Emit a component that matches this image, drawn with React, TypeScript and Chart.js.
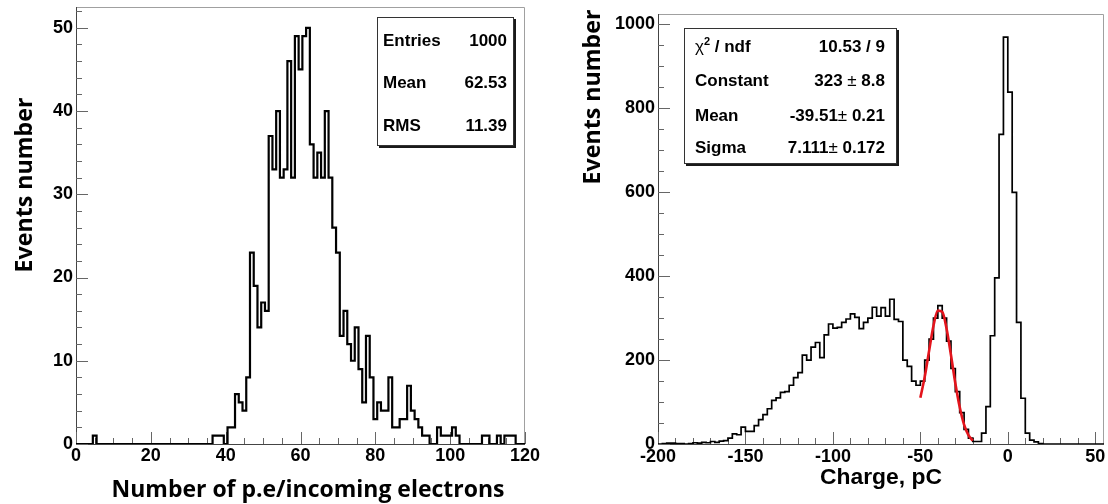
import React, { useEffect, useRef } from "react";
import { Chart, registerables } from "chart.js";

Chart.register(...registerables);

// ---------------- data ----------------
// Left histogram: counts of 1-unit bins centred on 0,1,2,...,120
const leftFirstEdge = -0.5;
const leftBinWidth = 1;
const leftCounts = [
  0, 0, 0, 0, 0, 1, 0, 0, 0, 0,
  0, 0, 0, 0, 0, 0, 0, 0, 0, 0,
  0, 0, 0, 0, 0, 0, 0, 0, 0, 0,
  0, 0, 0, 0, 0, 0, 0, 1, 1, 1,
  0, 2, 2, 6, 5, 4, 8, 23, 19, 14,
  17, 16, 37, 33, 40, 32, 33, 46, 32, 49,
  45, 49, 50, 36, 32, 35, 32, 40, 32, 26,
  23, 13, 16, 12, 10, 14, 9, 5, 13, 8,
  3, 5, 4, 4, 8, 2, 2, 3, 3, 7,
  4, 3, 2, 1, 1, 0, 0, 2, 1, 1,
  1, 2, 1, 0, 0, 0, 0, 0, 0, 1,
  1, 0, 0, 1, 0, 1, 1, 1, 0, 0,
  0,
];

// Right histogram: 2.5 pC bins starting at -200
const rightFirstEdge = -200;
const rightBinWidth = 2.5;
const rightCounts = [
  0, 1, 2, 2, 1, 1, 0, 1, 3, 2,
  4, 3, 6, 4, 7, 8, 14, 24, 22, 40,
  30, 30, 44, 58, 70, 84, 104, 110, 123, 125,
  140, 158, 170, 212, 200, 231, 242, 206, 260, 286,
  276, 278, 290, 298, 310, 302, 275, 290, 300, 326,
  305, 325, 305, 345, 297, 292, 200, 185, 150, 140,
  150, 200, 250, 300, 330, 300, 245, 180, 125, 75,
  35, 14, 6, 6, 26, 89, 258, 396, 738, 970,
  839, 600, 290, 109, 26, 9, 5, 1, 0, 0,
  0, 0, 0, 0, 0, 0, 0, 0, 0, 0,
  0, 0,
];

// Red fit curve
const fitX = [-50, -47.5, -45, -42.5, -40, -37.5, -35, -32.5, -30, -27.5, -25, -22.5, -20];
const fitY = [110, 160, 222, 282, 318, 315, 275, 212, 145, 88, 46, 21, 8];

// Axis ticks
const leftXTicks = [0, 20, 40, 60, 80, 100, 120];
const leftYTicks = [0, 10, 20, 30, 40, 50];
const rightXTicks = [-200, -150, -100, -50, 0, 50];
const rightYTicks = [0, 200, 400, 600, 800, 1000];

// Stats boxes
const leftStatLabels = ["Entries", "Mean", "RMS"];
const leftStatValues = ["1000", "62.53", "11.39"];
const rightStatLabels = ["\u03C7\u00B2 / ndf", "Constant", "Mean", "Sigma"];
const rightStatValues = ["10.53 / 9", "323 \u00B1 8.8", "-39.51\u00B1 0.21", "7.111\u00B1 0.172"];

// Titles
const yTitle = "Events number";
const leftXTitle = "Number of p.e/incoming electrons";
const rightXTitle = "Charge, pC";

// ---------------- helpers ----------------
const TICK_FONT = "Liberation Sans";

function histPoints(counts: number[], firstEdge: number, width: number) {
  const pts = counts.map((c, i) => ({ x: firstEdge + i * width, y: c }));
  pts.push({ x: firstEdge + counts.length * width, y: 0 });
  return pts;
}

function drawRich(ctx: CanvasRenderingContext2D, text: string, x: number, y: number, align: "left" | "right", size: number) {
  const parts: { t: string; k: string }[] = [];
  for (const ch of Array.from(text)) {
    const k = ch === "\u00B2" ? "sup" : ch === "\u00B1" || ch === "\u03C7" ? "thin" : "n";
    const last = parts[parts.length - 1];
    if (last && last.k === k) last.t += ch;
    else parts.push({ t: ch, k });
  }
  const fontFor = (k: string) =>
    k === "sup" ? `bold ${Math.round(size * 0.62)}px ${TICK_FONT}` : k === "thin" ? `${size}px ${TICK_FONT}` : `bold ${size}px ${TICK_FONT}`;
  const txt = (p: { t: string; k: string }) => (p.k === "sup" ? p.t.replace(/\u00B2/g, "2") : p.t);
  let total = 0;
  const widths = parts.map((p) => {
    ctx.font = fontFor(p.k);
    const w = ctx.measureText(txt(p)).width;
    total += w;
    return w;
  });
  let cx = align === "right" ? x - total : x;
  ctx.textAlign = "left";
  ctx.textBaseline = "middle";
  parts.forEach((p, i) => {
    ctx.font = fontFor(p.k);
    ctx.fillText(txt(p), cx, p.k === "sup" ? y - size * 0.32 : y);
    cx += widths[i];
  });
}

type Box = {
  x1: number; y1: number; x2: number; y2: number;
  rowsY: number[]; labelX: number; valueX: number; size: number;
  labels: string[]; values: string[];
};

type TitleSpec = { text: string; x: number; y: number; rot: number; width: number; family: string };

type Decor = {
  xMinor: number; xMajor: number; yMinor: number; yMajor: number;
  majorLen: number; minorLen: number;
  box: Box; titles: TitleSpec[];
};

function makeDecor(cfg: Decor) {
  return {
    id: "rootDecor",
    beforeDatasetsDraw(chart: any) {
      const { ctx, chartArea: a, scales } = chart;
      const xs = scales.x;
      const ys = scales.y;
      ctx.save();
      ctx.lineWidth = 1;
      ctx.strokeStyle = "#a0a0a0";
      ctx.beginPath();
      ctx.moveTo(a.left, a.top + 0.5);
      ctx.lineTo(a.right - 0.5, a.top + 0.5);
      ctx.lineTo(a.right - 0.5, a.bottom);
      ctx.stroke();
      ctx.strokeStyle = "#444";
      ctx.beginPath();
      ctx.moveTo(a.left + 0.5, a.top);
      ctx.lineTo(a.left + 0.5, a.bottom + 0.5);
      ctx.lineTo(a.right, a.bottom + 0.5);
      ctx.stroke();
      ctx.strokeStyle = "#666";
      ctx.beginPath();
      for (let i = Math.ceil(ys.min / cfg.yMinor); i * cfg.yMinor <= ys.max + 1e-9; i++) {
        const v = i * cfg.yMinor;
        const len = v % cfg.yMajor === 0 ? cfg.majorLen : cfg.minorLen;
        const py = Math.round(ys.getPixelForValue(v)) + 0.5;
        ctx.moveTo(a.left, py);
        ctx.lineTo(a.left + len, py);
      }
      for (let i = Math.ceil(xs.min / cfg.xMinor); i * cfg.xMinor <= xs.max + 1e-9; i++) {
        const v = i * cfg.xMinor;
        const len = v % cfg.xMajor === 0 ? cfg.majorLen : cfg.minorLen;
        const px = Math.round(xs.getPixelForValue(v)) + 0.5;
        ctx.moveTo(px, a.bottom);
        ctx.lineTo(px, a.bottom - len);
      }
      ctx.stroke();
      ctx.restore();
    },
    afterDraw(chart: any) {
      const { ctx } = chart;
      const b = cfg.box;
      ctx.save();
      ctx.fillStyle = "#1a1a1a";
      ctx.fillRect(b.x1 + 2, b.y1 + 2, b.x2 - b.x1, b.y2 - b.y1);
      ctx.fillStyle = "#fff";
      ctx.fillRect(b.x1, b.y1, b.x2 - b.x1, b.y2 - b.y1);
      ctx.strokeStyle = "#333";
      ctx.lineWidth = 1;
      ctx.strokeRect(b.x1 + 0.5, b.y1 + 0.5, b.x2 - b.x1 - 1, b.y2 - b.y1 - 1);
      ctx.fillStyle = "#000";
      b.labels.forEach((lab, i) => {
        drawRich(ctx, lab, b.labelX, b.rowsY[i], "left", b.size);
        drawRich(ctx, b.values[i], b.valueX, b.rowsY[i], "right", b.size);
      });
      cfg.titles.forEach((t) => {
        ctx.save();
        ctx.translate(t.x, t.y);
        if (t.rot) ctx.rotate(t.rot);
        ctx.font = `bold 100px ${t.family}`;
        const w100 = ctx.measureText(t.text).width;
        const size = (100 * t.width) / w100;
        ctx.font = `bold ${size.toFixed(2)}px ${t.family}`;
        ctx.textAlign = "center";
        ctx.textBaseline = "middle";
        ctx.fillStyle = "#000";
        ctx.fillText(t.text, 0, 0);
        ctx.restore();
      });
      ctx.restore();
    },
  };
}

function axisCommon(ticksArr: number[], padding: number) {
  return {
    type: "linear" as const,
    afterBuildTicks: (s: any) => {
      s.ticks = ticksArr.map((v) => ({ value: v }));
    },
    grid: { display: false, drawTicks: false },
    border: { display: false },
    ticks: {
      padding,
      color: "#000",
      autoSkip: false,
      maxRotation: 0,
      font: { family: TICK_FONT, weight: "bold" as const, size: 18 },
      callback: (v: any) => String(v),
    },
  };
}

function leftConfig(): any {
  return {
    type: "line",
    data: {
      datasets: [
        {
          data: histPoints(leftCounts, leftFirstEdge, leftBinWidth),
          borderColor: "#000",
          borderWidth: 2.2,
          stepped: true,
          pointRadius: 0,
          fill: false,
          borderJoinStyle: "miter",
        },
      ],
    },
    options: {
      responsive: false,
      animation: false,
      layout: { padding: { top: 7, right: 29, left: 0, bottom: 0 } },
      plugins: { legend: { display: false }, tooltip: { enabled: false } },
      scales: {
        x: {
          ...axisCommon(leftXTicks, 1),
          position: "bottom",
          min: 0,
          max: 120,
          afterFit: (s: any) => {
            s.height = 60;
            s.paddingLeft = 0;
            s.paddingRight = 0;
          },
        },
        y: {
          ...axisCommon(leftYTicks, 3),
          position: "left",
          min: 0,
          max: 52.5,
          afterFit: (s: any) => {
            s.width = 76;
            s.paddingTop = 0;
            s.paddingBottom = 0;
          },
        },
      },
    },
    plugins: [
      makeDecor({
        xMinor: 5, xMajor: 20, yMinor: 2, yMajor: 10, majorLen: 12, minorLen: 6,
        box: {
          x1: 377, y1: 17, x2: 514, y2: 146,
          rowsY: [41, 83, 126], labelX: 383, valueX: 507, size: 17,
          labels: leftStatLabels, values: leftStatValues,
        },
        titles: [
          { text: yTitle, x: 25, y: 185, rot: -Math.PI / 2, width: 175, family: "Open Sans" },
          { text: leftXTitle, x: 308, y: 490, rot: 0, width: 393, family: "Open Sans" },
        ],
      }),
    ],
  };
}

function rightConfig(): any {
  return {
    type: "line",
    data: {
      datasets: [
        {
          data: fitX.map((x, i) => ({ x, y: fitY[i] })),
          borderColor: "#e3141c",
          borderWidth: 2.6,
          pointRadius: 0,
          fill: false,
          cubicInterpolationMode: "monotone",
        },
        {
          data: histPoints(rightCounts, rightFirstEdge, rightBinWidth),
          borderColor: "#000",
          borderWidth: 1.7,
          stepped: true,
          pointRadius: 0,
          fill: false,
          borderJoinStyle: "miter",
        },
      ],
    },
    options: {
      responsive: false,
      animation: false,
      layout: { padding: { top: 14, right: 4, left: 0, bottom: 0 } },
      plugins: { legend: { display: false }, tooltip: { enabled: false } },
      scales: {
        x: {
          ...axisCommon(rightXTicks, 2),
          position: "bottom",
          min: -200,
          max: 55,
          afterFit: (s: any) => {
            s.height = 60;
            s.paddingLeft = 0;
            s.paddingRight = 0;
          },
        },
        y: {
          ...axisCommon(rightYTicks, 3),
          position: "left",
          min: 0,
          max: 1025,
          afterFit: (s: any) => {
            s.width = 104;
            s.paddingTop = 0;
            s.paddingBottom = 0;
          },
        },
      },
    },
    plugins: [
      makeDecor({
        xMinor: 10, xMajor: 50, yMinor: 50, yMajor: 200, majorLen: 12, minorLen: 6,
        box: {
          x1: 130, y1: 28, x2: 343, y2: 164,
          rowsY: [47, 81, 116, 148], labelX: 141, valueX: 331, size: 17,
          labels: rightStatLabels, values: rightStatValues,
        },
        titles: [
          { text: yTitle, x: 39, y: 97, rot: -Math.PI / 2, width: 175, family: "Open Sans" },
          { text: rightXTitle, x: 327, y: 478, rot: 0, width: 122, family: TICK_FONT },
        ],
      }),
    ],
  };
}

export default function App() {
  const leftRef = useRef<HTMLCanvasElement>(null);
  const rightRef = useRef<HTMLCanvasElement>(null);
  useEffect(() => {
    const l = new Chart(leftRef.current as HTMLCanvasElement, leftConfig());
    const r = new Chart(rightRef.current as HTMLCanvasElement, rightConfig());
    return () => {
      l.destroy();
      r.destroy();
    };
  }, []);
  return (
    <div style={{ position: "absolute", left: 0, top: 0, width: 1108, height: 504, background: "#fff", overflow: "hidden" }}>
      <canvas ref={leftRef} width={554} height={504} style={{ position: "absolute", left: 0, top: 0 }} />
      <canvas ref={rightRef} width={554} height={504} style={{ position: "absolute", left: 554, top: 0 }} />
    </div>
  );
}
